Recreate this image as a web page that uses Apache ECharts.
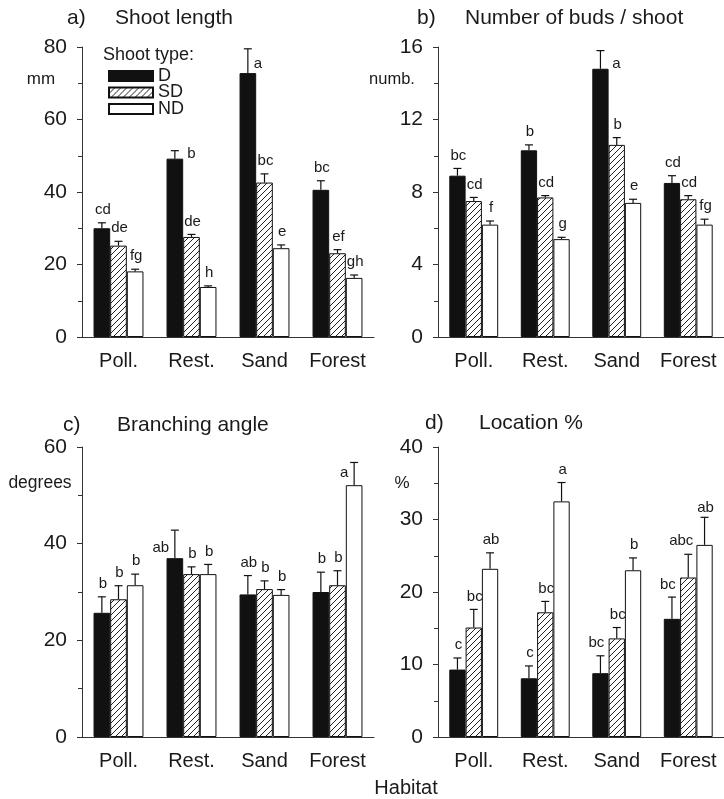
<!DOCTYPE html>
<html>
<head>
<meta charset="utf-8">
<script src="https://cdn.jsdelivr.net/npm/echarts@6/dist/echarts.min.js"></script>
<style>
html,body{margin:0;padding:0;background:#fff;}
#chart{width:724px;height:799px;}
</style>
</head>
<body>
<div id="chart"></div>
<script>
// ---------- data ----------
const categories = ['Poll.', 'Rest.', 'Sand', 'Forest'];
const shootTypes = ['D', 'SD', 'ND'];

// a) Shoot length (mm): means and error-bar tops
const lengthD = [30.0, 49.2, 72.8, 40.6];
const lengthDErr = [31.5, 51.4, 79.5, 43.1];
const lengthSD = [25.2, 27.6, 42.6, 23.1];
const lengthSDErr = [26.4, 28.3, 45.0, 24.1];
const lengthND = [18.1, 13.8, 24.5, 16.3];
const lengthNDErr = [18.7, 14.1, 25.4, 17.1];
const lengthLetters = [['cd', 'b', 'a', 'bc'], ['de', 'de', 'bc', 'ef'], ['fg', 'h', 'e', 'gh']];

// b) Number of buds / shoot
const budsD = [8.9, 10.3, 14.8, 8.5];
const budsDErr = [9.3, 10.6, 15.8, 8.9];
const budsSD = [7.5, 7.7, 10.6, 7.6];
const budsSDErr = [7.7, 7.8, 11.0, 7.8];
const budsND = [6.2, 5.4, 7.4, 6.2];
const budsNDErr = [6.4, 5.5, 7.6, 6.5];
const budsLetters = [['bc', 'b', 'a', 'cd'], ['cd', 'cd', 'b', 'cd'], ['f', 'g', 'e', 'fg']];

// c) Branching angle (degrees)
const angleD = [25.7, 37.0, 29.5, 30.0];
const angleDErr = [29.0, 42.8, 33.4, 34.1];
const angleSD = [28.5, 33.7, 30.6, 31.4];
const angleSDErr = [31.3, 35.2, 32.3, 34.4];
const angleND = [31.4, 33.7, 29.4, 52.1];
const angleNDErr = [33.7, 35.7, 30.5, 56.8];
const angleLetters = [['b', 'ab', 'ab', 'b'], ['b', 'b', 'b', 'b'], ['b', 'b', 'b', 'a']];

// d) Location %
const locD = [9.3, 8.1, 8.8, 16.3];
const locDErr = [10.9, 9.8, 11.2, 19.3];
const locSD = [15.1, 17.2, 13.6, 22.0];
const locSDErr = [17.6, 18.7, 15.1, 25.2];
const locND = [23.2, 32.5, 23.0, 26.5];
const locNDErr = [25.4, 35.1, 24.7, 30.3];
const locLetters = [['c', 'c', 'bc', 'bc'], ['bc', 'bc', 'bc', 'abc'], ['ab', 'a', 'b', 'ab']];

// ---------- styling / layout ----------
const FONT = '"Liberation Sans", Arial, Helvetica, sans-serif';
const INK = '#1a1a1a';
const AXIS = '#333';
const BAR_FRAC = 0.228;

function hatchCanvas() {
  const s = 6;
  const c = document.createElement('canvas');
  c.width = s; c.height = s;
  const ctx = c.getContext('2d');
  ctx.fillStyle = '#fff';
  ctx.fillRect(0, 0, s, s);
  ctx.strokeStyle = '#222';
  ctx.lineWidth = 1;
  ctx.beginPath();
  ctx.moveTo(0, s); ctx.lineTo(s, 0);
  ctx.moveTo(-1, 1); ctx.lineTo(1, -1);
  ctx.moveTo(s - 1, s + 1); ctx.lineTo(s + 1, s - 1);
  ctx.stroke();
  return c;
}
const hatch = { image: hatchCanvas(), repeat: 'repeat' };

const typeStyles = [
  { color: '#111', borderColor: '#111', borderWidth: 1 },
  { color: hatch, borderColor: '#111', borderWidth: 1 },
  { color: '#fff', borderColor: '#111', borderWidth: 1 }
];

// letter placement tweaks: key "panel-cat-type" -> offset from error-bar top
const letterTweaks = {
  '0-1-0': { dx: 16.5, dy: 3 },
  '0-2-0': { dx: 10, dy: 15.5 },
  '1-2-0': { dx: 16, dy: 13 },
  '2-1-0': { dx: -14, dy: 17.5 },
  '2-3-2': { dx: -10, dy: 10 },
  '3-2-0': { dx: -4, dy: -13 },
  '3-3-0': { dx: -4, dy: -12 },
  '3-3-1': { dx: -7, dy: -13 },
  '3-3-2': { dx: 1, dy: -9 }
};

const panels = [
  { means: [lengthD, lengthSD, lengthND], errs: [lengthDErr, lengthSDErr, lengthNDErr], letters: lengthLetters, max: 80, interval: 20 },
  { means: [budsD, budsSD, budsND], errs: [budsDErr, budsSDErr, budsNDErr], letters: budsLetters, max: 16, interval: 4 },
  { means: [angleD, angleSD, angleND], errs: [angleDErr, angleSDErr, angleNDErr], letters: angleLetters, max: 60, interval: 20 },
  { means: [locD, locSD, locND], errs: [locDErr, locSDErr, locNDErr], letters: locLetters, max: 40, interval: 10 }
];

const grids = [
  { left: 82, top: 47, width: 292, height: 290 },
  { left: 438, top: 47, width: 291, height: 290 },
  { left: 82, top: 447, width: 292, height: 290 },
  { left: 438, top: 447, width: 291, height: 290 }
];

const xAxes = grids.map((g, i) => ({
  type: 'category', gridIndex: i, data: categories,
  axisLine: { show: true, lineStyle: { color: AXIS, width: 1 } },
  axisTick: { show: false },
  axisLabel: { fontSize: 20, color: INK, fontFamily: FONT, margin: 14, interval: 0 },
  splitLine: { show: false }
}));

const yAxes = panels.map((p, i) => ({
  type: 'value', gridIndex: i, min: 0, max: p.max, interval: p.interval,
  axisLine: { show: true, lineStyle: { color: AXIS, width: 1 } },
  axisTick: { show: true, length: 5, lineStyle: { color: AXIS } },
  minorTick: { show: true, splitNumber: 2, length: 4, lineStyle: { color: AXIS } },
  splitLine: { show: false },
  minorSplitLine: { show: false },
  axisLabel: { fontSize: 21, color: INK, fontFamily: FONT, margin: 15 }
}));

const series = [];
panels.forEach((p, pi) => {
  shootTypes.forEach((t, ti) => {
    series.push({
      type: 'bar', name: t, xAxisIndex: pi, yAxisIndex: pi,
      data: p.means[ti],
      barWidth: (BAR_FRAC * 100) + '%', barGap: '0%',
      itemStyle: typeStyles[ti],
      emphasis: { disabled: true },
      z: 2
    });
  });
  const errData = [];
  const letterList = [];
  for (let ti = 0; ti < 3; ti++) {
    for (let ci = 0; ci < categories.length; ci++) {
      errData.push([ci, ti, p.means[ti][ci], p.errs[ti][ci]]);
      letterList.push(p.letters[ti][ci]);
    }
  }
  series.push({
    type: 'custom', xAxisIndex: pi, yAxisIndex: pi,
    data: errData, clip: false, z: 5, silent: true,
    encode: { x: 0, y: [2, 3] },
    renderItem: function (params, api) {
      const ci = api.value(0), ti = api.value(1);
      const mean = api.value(2), err = api.value(3);
      const band = api.size([1, 0])[0];
      const bw = band * BAR_FRAC;
      const cx = api.coord([ci, 0])[0] + (ti - 1) * bw;
      const yMean = api.coord([ci, mean])[1];
      const yErr = api.coord([ci, err])[1];
      const tw = letterTweaks[pi + '-' + ci + '-' + ti] || { dx: 1, dy: -13 };
      return {
        type: 'group',
        children: [
          { type: 'line', shape: { x1: cx, y1: yMean, x2: cx, y2: yErr }, style: { stroke: '#111', lineWidth: 1.2 } },
          { type: 'line', shape: { x1: cx - 4, y1: yErr, x2: cx + 4, y2: yErr }, style: { stroke: '#111', lineWidth: 1.2 } },
          { type: 'text', x: cx + tw.dx, y: yErr + tw.dy,
            style: { text: letterList[params.dataIndex], fill: INK, font: '15px ' + FONT,
              align: 'center', verticalAlign: 'middle', textAlign: 'center', textVerticalAlign: 'middle' } }
        ]
      };
    }
  });
});

function txt(text, x, y, size, align) {
  return {
    type: 'text', x: x, y: y, silent: true,
    style: { text: text, fill: INK, font: size + 'px ' + FONT,
      align: align || 'left', verticalAlign: 'middle',
      textAlign: align || 'left', textVerticalAlign: 'middle' }
  };
}

const graphics = [
  txt('a)', 67, 18, 21), txt('Shoot length', 115, 18, 21),
  txt('b)', 417, 18, 21), txt('Number of buds / shoot', 465, 18, 21),
  txt('c)', 63, 425, 21), txt('Branching angle', 117, 425, 21),
  txt('d)', 425, 423, 21), txt('Location %', 479, 423, 21),
  txt('mm', 41, 79, 17, 'center'),
  txt('numb.', 392, 79, 16.5, 'center'),
  txt('degrees', 40, 483, 17.5, 'center'),
  txt('%', 402, 483, 17, 'center'),
  txt('Habitat', 406, 788, 20, 'center'),
  txt('Shoot type:', 103, 55, 18)
];

const option = {
  animation: false,
  backgroundColor: '#fff',
  textStyle: { fontFamily: FONT },
  grid: grids,
  xAxis: xAxes,
  yAxis: yAxes,
  legend: {
    data: shootTypes, orient: 'vertical', left: 103, top: 62,
    itemWidth: 44, itemHeight: 10, itemGap: -1.5,
    icon: 'rect',
    textStyle: { fontSize: 18, lineHeight: 16, color: INK, fontFamily: FONT },
    selectedMode: false
  },
  graphic: graphics,
  series: series
};

const chart = echarts.init(document.getElementById('chart'), null, { renderer: 'canvas' });
chart.setOption(option);
</script>
</body>
</html>
